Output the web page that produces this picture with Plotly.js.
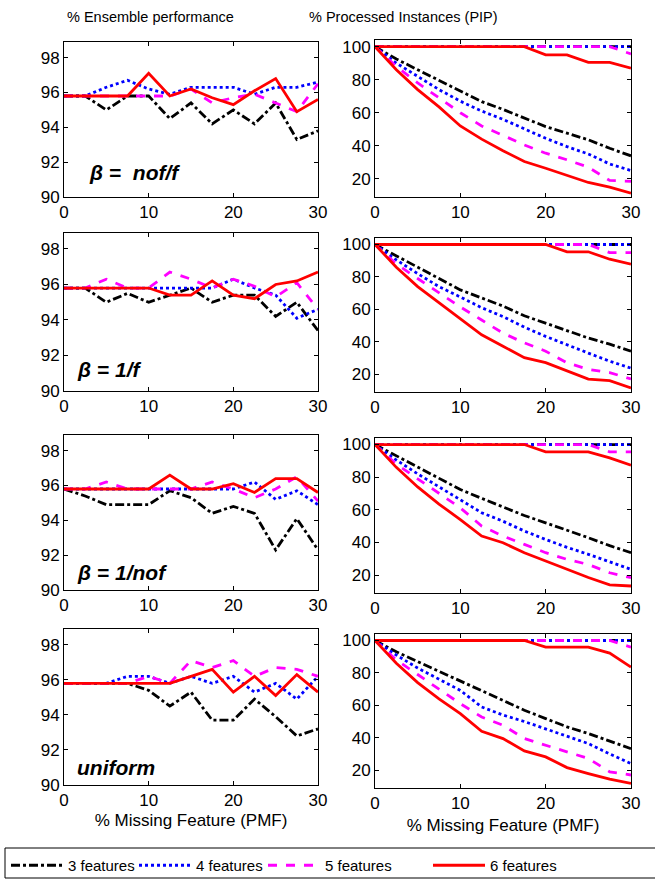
<!DOCTYPE html>
<html>
<head>
<meta charset="utf-8">
<script src="https://cdn.plot.ly/plotly-3.0.1.min.js"></script>
<style>html,body{margin:0;padding:0;background:#fff;}#chart{width:655px;height:881px;}</style>
</head>
<body>
<div id="chart"></div>
<script>
// ---- data ----
const pmf = [0, 2.5, 5, 7.5, 10, 12.5, 15, 17.5, 20, 22.5, 25, 27.5, 30];
const seriesNames = ["3 features", "4 features", "5 features", "6 features"];
const panelLabels = ["\u03b2 =\u00a0 nof/f", "\u03b2 = 1/f", "\u03b2 = 1/nof", "uniform"];
const colTitles = ["% Ensemble performance", "% Processed Instances (PIP)"];
const xTitle = "% Missing Feature (PMF)";
const ensTicks = [90, 92, 94, 96, 98];
const pipTicks = [20, 40, 60, 80, 100];
const pmfTicks = [0, 10, 20, 30];

// row 1: beta = nof/f
const ens1_3 = [95.8, 95.8, 95.0, 95.8, 95.8, 94.5, 95.4, 94.2, 95.0, 94.2, 95.4, 93.3, 93.8];
const ens1_4 = [95.8, 95.8, 96.3, 96.7, 96.2, 95.9, 96.3, 96.3, 96.3, 95.9, 96.3, 96.3, 96.6];
const ens1_5 = [95.8, 95.8, 95.8, 95.8, 95.8, 95.8, 96.2, 95.4, 95.7, 95.9, 95.4, 94.9, 96.5];
const ens1_6 = [95.8, 95.8, 95.8, 95.8, 97.1, 95.8, 96.2, 95.7, 95.3, 96.1, 96.8, 94.9, 95.6];
const pipHi1_3 = [100, 100, 100, 100, 100, 100, 100, 100, 100, 100, 100, 100, 100];
const pipHi1_4 = [100, 100, 100, 100, 100, 100, 100, 100, 100, 100, 100, 100, 100];
const pipHi1_5 = [100, 100, 100, 100, 100, 100, 100, 100, 100, 100, 100, 100, 95.6];
const pipHi1_6 = [100, 100, 100, 100, 100, 100, 100, 100, 95, 95, 90.5, 90.5, 87];
const pipLo1_3 = [100, 92.5, 86, 79.5, 73, 66.7, 62, 56.7, 51.6, 47.6, 43.6, 38.5, 33.9];
const pipLo1_4 = [100, 90, 82, 74, 67, 61, 56, 50, 44.5, 39.5, 35, 29, 25];
const pipLo1_5 = [100, 88, 78, 69, 60, 52, 46, 40.5, 35.5, 31.5, 27, 19, 18.5];
const pipLo1_6 = [100, 86, 74, 63.5, 52, 44, 37, 30.5, 26.4, 22, 17.8, 15, 11.3];

// row 2: beta = 1/f
const ens2_3 = [95.8, 95.8, 95.0, 95.5, 95.0, 95.4, 95.8, 95.0, 95.4, 95.4, 94.2, 95.0, 93.4];
const ens2_4 = [95.8, 95.8, 95.8, 95.8, 95.8, 95.8, 95.8, 95.8, 96.3, 95.8, 95.4, 94.1, 94.6];
const ens2_5 = [95.8, 95.8, 96.3, 95.8, 95.8, 96.7, 96.3, 95.8, 96.3, 95.9, 95.3, 96.1, 94.6];
const ens2_6 = [95.8, 95.8, 95.8, 95.8, 95.8, 95.4, 95.4, 96.2, 95.4, 95.2, 96.0, 96.2, 96.7];
const pipHi2_3 = [100, 100, 100, 100, 100, 100, 100, 100, 100, 100, 100, 100, 100];
const pipHi2_4 = [100, 100, 100, 100, 100, 100, 100, 100, 100, 100, 100, 100, 100];
const pipHi2_5 = [100, 100, 100, 100, 100, 100, 100, 100, 100, 100, 100, 95, 95];
const pipHi2_6 = [100, 100, 100, 100, 100, 100, 100, 100, 100, 95.5, 95.5, 90.9, 87.9];
const pipLo2_3 = [100, 93, 86.5, 79, 72, 67, 62, 56, 51.4, 47, 42.3, 38.5, 34.2];
const pipLo2_4 = [100, 90.5, 82, 74, 67.6, 61, 55.5, 49, 43.3, 38, 33, 28, 23.7];
const pipLo2_5 = [100, 88, 79, 70, 61.5, 53.4, 45.3, 39.3, 34.2, 27, 23, 21, 17];
const pipLo2_6 = [100, 86, 74, 64, 54.5, 44.3, 37.2, 30.2, 27.1, 22, 17, 16, 11.5];

// row 3: beta = 1/nof
const ens3_3 = [95.8, 95.4, 94.9, 94.9, 94.9, 95.7, 95.3, 94.4, 94.8, 94.4, 92.3, 94.1, 92.3];
const ens3_4 = [95.8, 95.8, 95.8, 95.8, 95.8, 95.8, 95.8, 95.8, 95.8, 96.2, 95.2, 95.7, 94.9];
const ens3_5 = [95.8, 95.8, 96.2, 95.8, 95.8, 95.8, 95.8, 96.2, 95.8, 95.3, 95.8, 96.5, 95.1];
const ens3_6 = [95.8, 95.8, 95.8, 95.8, 95.8, 96.6, 95.8, 95.8, 96.1, 95.6, 96.4, 96.4, 95.6];
const pipHi3_3 = [100, 100, 100, 100, 100, 100, 100, 100, 100, 100, 100, 100, 100];
const pipHi3_4 = [100, 100, 100, 100, 100, 100, 100, 100, 100, 100, 100, 100, 100];
const pipHi3_5 = [100, 100, 100, 100, 100, 100, 100, 100, 100, 100, 100, 95.5, 95.5];
const pipHi3_6 = [100, 100, 100, 100, 100, 100, 100, 100, 95.5, 95.5, 95.5, 91.8, 87.3];
const pipLo3_3 = [100, 93, 86.5, 79.5, 72.4, 67, 61.5, 56.5, 52, 47.5, 42.9, 38, 33.7];
const pipLo3_4 = [100, 90.5, 82, 74, 66.3, 58.2, 53, 47, 41.8, 37, 32.7, 28, 23.5];
const pipLo3_5 = [100, 88, 79, 70, 61.2, 50, 43.9, 38.8, 33.7, 29.6, 26.5, 21.4, 18.4];
const pipLo3_6 = [100, 86, 74, 63.5, 54, 43.9, 39.8, 33.7, 28.6, 23.5, 18.5, 14, 13.3];

// row 4: uniform
const ens4_3 = [95.8, 95.8, 95.8, 95.8, 95.4, 94.5, 95.3, 93.7, 93.7, 94.9, 93.9, 92.8, 93.2];
const ens4_4 = [95.8, 95.8, 95.8, 96.2, 96.2, 95.8, 96.2, 95.8, 96.2, 95.3, 95.8, 94.9, 96.2];
const ens4_5 = [95.8, 95.8, 95.8, 95.8, 96.2, 95.8, 97.1, 96.7, 97.1, 96.2, 96.7, 96.6, 96.2];
const ens4_6 = [95.8, 95.8, 95.8, 95.8, 95.8, 95.8, 96.2, 96.6, 95.3, 96.2, 95.1, 96.3, 95.3];
const pipHi4_3 = [100, 100, 100, 100, 100, 100, 100, 100, 100, 100, 100, 100, 100];
const pipHi4_4 = [100, 100, 100, 100, 100, 100, 100, 100, 100, 100, 100, 100, 100];
const pipHi4_5 = [100, 100, 100, 100, 100, 100, 100, 100, 100, 100, 100, 100, 95.9];
const pipHi4_6 = [100, 100, 100, 100, 100, 100, 100, 100, 95.9, 95.9, 95.9, 92.2, 83.6];
const pipLo4_3 = [100, 93, 87, 81, 75.4, 69, 63.5, 57, 51.8, 46.7, 42.6, 38, 33.3];
const pipLo4_4 = [100, 91, 83, 76, 69.2, 59, 54, 50, 45.6, 41, 36.4, 30, 24.1];
const pipLo4_5 = [100, 88, 79, 70, 61, 52.8, 47.7, 39.5, 35.4, 31.3, 27.2, 19, 17];
const pipLo4_6 = [100, 86, 74, 64, 54.9, 44, 39.5, 31.9, 28.2, 21.6, 17.9, 14.5, 11.8];

const ensRows = [
  [ens1_3, ens1_4, ens1_5, ens1_6],
  [ens2_3, ens2_4, ens2_5, ens2_6],
  [ens3_3, ens3_4, ens3_5, ens3_6],
  [ens4_3, ens4_4, ens4_5, ens4_6]
];
const pipHiRows = [
  [pipHi1_3, pipHi1_4, pipHi1_5, pipHi1_6],
  [pipHi2_3, pipHi2_4, pipHi2_5, pipHi2_6],
  [pipHi3_3, pipHi3_4, pipHi3_5, pipHi3_6],
  [pipHi4_3, pipHi4_4, pipHi4_5, pipHi4_6]
];
const pipLoRows = [
  [pipLo1_3, pipLo1_4, pipLo1_5, pipLo1_6],
  [pipLo2_3, pipLo2_4, pipLo2_5, pipLo2_6],
  [pipLo3_3, pipLo3_4, pipLo3_5, pipLo3_6],
  [pipLo4_3, pipLo4_4, pipLo4_5, pipLo4_6]
];

// ---- styles ----
const colors = ["#000000", "#0000ff", "#ff00ff", "#ff0000"];
const dashes = ["dashdot", "dot", "dash", "solid"];
const W = 655, H = 881;
const FONT = "Arial, 'Liberation Sans', sans-serif";

const leftX = [64, 318], rightX = [375, 631];
const leftY = [[42, 197], [233, 391], [435, 590], [629, 785]];
const rightY = [[40, 197], [238, 392], [438, 593], [634, 788]];
const dx = p => [p[0] / W, p[1] / W];
const dy = p => [1 - p[1] / H, 1 - p[0] / H];
const legendIds = ["legend", "legend2", "legend3", "legend4"];
const legendX = [6, 134, 263, 428];

const traces = [];
const layout = {
  width: W, height: H,
  margin: {l: 0, r: 0, t: 0, b: 0, autoexpand: false},
  paper_bgcolor: "#fff", plot_bgcolor: "#fff",
  font: {family: FONT, color: "#000", size: 16},
  showlegend: true,
  shapes: [{
    type: "rect", xref: "paper", yref: "paper",
    x0: 5 / W, x1: 1.01, y0: 1 - 878 / H, y1: 1 - 848 / H,
    line: {color: "#000", width: 1}, fillcolor: "rgba(0,0,0,0)"
  }],
  annotations: []
};
legendIds.forEach((id, i) => {
  layout[id] = {
    orientation: "h", x: legendX[i] / W, y: 1 - 849 / H, xanchor: "left", yanchor: "top",
    borderwidth: 0, bgcolor: "rgba(0,0,0,0)", itemwidth: 52,
    font: {family: FONT, size: 15, color: "#000"}
  };
});

function axisCommon() {
  return {
    showline: true, linecolor: "#000", linewidth: 1, mirror: "allticks",
    ticks: "inside", ticklen: 4, tickcolor: "#000", showgrid: false, zeroline: false,
    automargin: false,
    tickfont: {family: FONT, size: 17, color: "#000"}
  };
}

for (let r = 0; r < 4; r++) {
  const li = 2 * r + 1, ri = 2 * r + 2;
  const lx = "x" + (li === 1 ? "" : li), ly = "y" + (li === 1 ? "" : li);
  const rx = "x" + ri, ry = "y" + ri;
  for (let s = 0; s < 4; s++) {
    traces.push({
      x: pmf, y: ensRows[r][s], xaxis: lx, yaxis: ly, mode: "lines", type: "scatter",
      name: seriesNames[s], legendgroup: seriesNames[s], showlegend: r === 0,
      legend: legendIds[s],
      line: {color: colors[s], dash: dashes[s], width: 2.8}
    });
  }
  for (let s = 0; s < 4; s++) {
    traces.push({
      x: pmf, y: pipLoRows[r][s], xaxis: rx, yaxis: ry, mode: "lines", type: "scatter",
      name: seriesNames[s], legendgroup: seriesNames[s], showlegend: false,
      legend: legendIds[s],
      line: {color: colors[s], dash: dashes[s], width: 2.8}
    });
  }
  for (let s = 0; s < 4; s++) {
    traces.push({
      x: pmf, y: pipHiRows[r][s], xaxis: rx, yaxis: ry, mode: "lines", type: "scatter",
      name: seriesNames[s], legendgroup: seriesNames[s], showlegend: false,
      legend: legendIds[s],
      line: {color: colors[s], dash: dashes[s], width: 2.8}
    });
  }
  const xl = Object.assign(axisCommon(), {domain: dx(leftX), anchor: ly, range: [0, 30], tickvals: pmfTicks});
  const yl = Object.assign(axisCommon(), {domain: dy(leftY[r]), anchor: lx, range: [90, 98.9], tickvals: ensTicks});
  const xr = Object.assign(axisCommon(), {domain: dx(rightX), anchor: ry, range: [0, 30], tickvals: pmfTicks});
  const yr = Object.assign(axisCommon(), {domain: dy(rightY[r]), anchor: rx, range: [9, 104], tickvals: pipTicks});
  if (r === 3) {
    xl.title = {text: xTitle, font: {family: FONT, size: 17, color: "#000"}, standoff: 4};
    xr.title = {text: xTitle, font: {family: FONT, size: 17, color: "#000"}, standoff: 6};
  }
  layout["xaxis" + (li === 1 ? "" : li)] = xl;
  layout["yaxis" + (li === 1 ? "" : li)] = yl;
  layout["xaxis" + ri] = xr;
  layout["yaxis" + ri] = yr;

  const labPos = [[0.09, 0.16], [0.043, 0.133], [0.043, 0.11], [0.043, 0.115]];
  layout.annotations.push({
    text: "<b><i>" + panelLabels[r] + "</i></b>",
    xref: lx + " domain", yref: ly + " domain",
    x: labPos[r][0], y: labPos[r][1], xanchor: "left", yanchor: "middle",
    showarrow: false, font: {family: FONT, size: 21, color: "#000"}
  });
}

layout.annotations.push({
  text: colTitles[0], xref: "paper", yref: "paper", x: 150 / W, y: 1 - 17 / H,
  xanchor: "center", yanchor: "middle", showarrow: false,
  font: {family: FONT, size: 14.5, color: "#000"}
});
layout.annotations.push({
  text: colTitles[1], xref: "paper", yref: "paper", x: 403 / W, y: 1 - 17 / H,
  xanchor: "center", yanchor: "middle", showarrow: false,
  font: {family: FONT, size: 14.5, color: "#000"}
});

Plotly.newPlot("chart", traces, layout, {displayModeBar: false, staticPlot: true});
</script>
</body>
</html>
